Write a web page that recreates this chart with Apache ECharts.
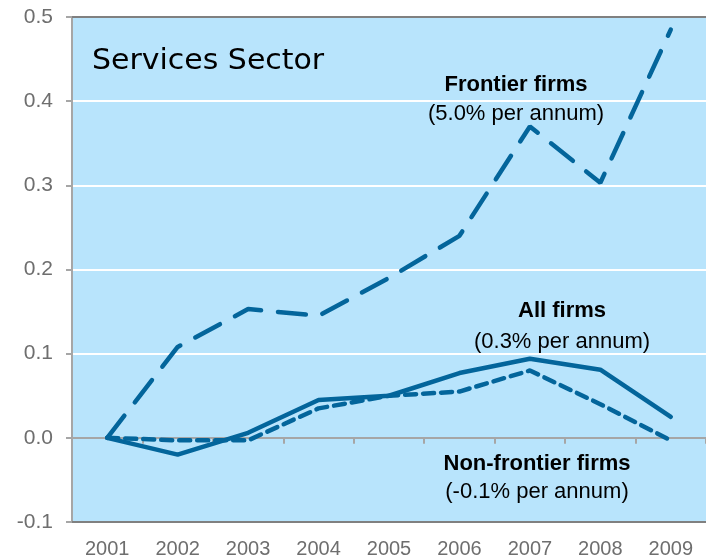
<!DOCTYPE html>
<html>
<head>
<meta charset="utf-8">
<script src="https://cdn.jsdelivr.net/npm/echarts@6/dist/echarts.min.js"></script>
<style>
  html, body { margin: 0; padding: 0; background: #fff; }
  #chart { width: 706px; height: 559px; }
</style>
</head>
<body>
<div id="chart"></div>
<script>
const years = ["2001", "2002", "2003", "2004", "2005", "2006", "2007", "2008", "2009"];
const frontierFirms = [0, 0.108, 0.153, 0.145, 0.19, 0.24, 0.37, 0.303, 0.485];
const allFirms = [0, -0.02, 0.006, 0.045, 0.05, 0.077, 0.094, 0.081, 0.025];
const nonFrontierFirms = [0, -0.003, -0.003, 0.035, 0.05, 0.055, 0.08, 0.04, -0.003];
const yTicks = { min: -0.1, max: 0.5, interval: 0.1 };

const lineColor = "#03659b";
const axisGray = "#a6a6a6";
const borderGray = "#808080";
const labelGray = "#6e6e6e";

const myChart = echarts.init(document.getElementById("chart"));

function lineSeries(name, values, dash) {
  return {
    type: "line",
    name: name,
    data: values,
    xAxisIndex: 0,
    symbol: "none",
    z: 5,
    lineStyle: {
      color: lineColor,
      width: 4.5,
      type: dash,
      cap: "round"
    }
  };
}

myChart.setOption({
  animation: false,
  grid: {
    left: 72,
    right: 0,
    top: 17,
    bottom: 36,
    show: true,
    backgroundColor: "#b8e4fc",
    borderWidth: 0
  },
  xAxis: [
    {
      type: "category",
      data: years,
      position: "bottom",
      boundaryGap: true,
      axisLine: { onZero: false, lineStyle: { color: borderGray, width: 2 } },
      axisTick: { show: false },
      axisLabel: { color: labelGray, fontSize: 20, fontFamily: "Liberation Sans", margin: 17 },
      splitLine: { show: false }
    },
    {
      type: "category",
      data: years,
      position: "bottom",
      boundaryGap: true,
      axisLine: { onZero: true, onZeroAxisIndex: 0, lineStyle: { color: axisGray, width: 2 } },
      axisTick: { show: true, length: 6, lineStyle: { color: axisGray, width: 2 } },
      axisLabel: { show: false },
      splitLine: { show: false }
    }
  ],
  yAxis: {
    type: "value",
    min: yTicks.min,
    max: yTicks.max,
    interval: yTicks.interval,
    axisLine: { show: true, onZero: false, lineStyle: { color: axisGray, width: 2 } },
    axisTick: { show: true, length: 6, lineStyle: { color: axisGray, width: 2 } },
    axisLabel: {
      color: labelGray,
      fontSize: 21,
      fontFamily: "Liberation Sans",
      margin: 19,
      formatter: v => v.toFixed(1)
    },
    splitLine: { show: true, lineStyle: { color: "#ffffff", width: 2 } }
  },
  graphic: [
    { type: "line", shape: { x1: 72, y1: 17, x2: 706, y2: 17 }, style: { stroke: borderGray, lineWidth: 2 }, z: 10 },
    { type: "text", x: 92, y: 48, scaleX: 1.07, style: { text: "Services Sector", fontSize: 28, fontFamily: "DejaVu Sans", fill: "#000" } },
    { type: "text", x: 516, y: 85, style: { text: "Frontier firms", fontSize: 22, fontWeight: "bold", fontFamily: "Liberation Sans", fill: "#000", align: "center", verticalAlign: "middle" } },
    { type: "text", x: 516, y: 114, style: { text: "(5.0% per annum)", fontSize: 22, fontFamily: "Liberation Sans", fill: "#000", align: "center", verticalAlign: "middle" } },
    { type: "text", x: 562, y: 311, style: { text: "All firms", fontSize: 22, fontWeight: "bold", fontFamily: "Liberation Sans", fill: "#000", align: "center", verticalAlign: "middle" } },
    { type: "text", x: 562, y: 342, style: { text: "(0.3% per annum)", fontSize: 22, fontFamily: "Liberation Sans", fill: "#000", align: "center", verticalAlign: "middle" } },
    { type: "text", x: 537, y: 464, style: { text: "Non-frontier firms", fontSize: 22, fontWeight: "bold", fontFamily: "Liberation Sans", fill: "#000", align: "center", verticalAlign: "middle" } },
    { type: "text", x: 537, y: 492, style: { text: "(-0.1% per annum)", fontSize: 22, fontFamily: "Liberation Sans", fill: "#000", align: "center", verticalAlign: "middle" } }
  ],
  series: [
    lineSeries("Frontier firms", frontierFirms, [28, 17]),
    lineSeries("All firms", allFirms, "solid"),
    lineSeries("Non-frontier firms", nonFrontierFirms, [11, 7])
  ]
});
</script>
</body>
</html>
